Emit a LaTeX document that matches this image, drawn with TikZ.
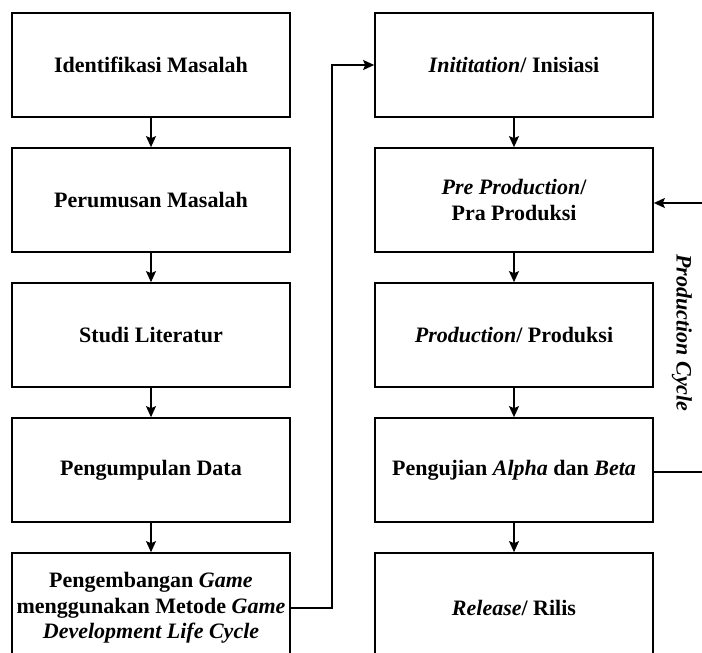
\documentclass[tikz,border=0pt]{standalone}
\usepackage{fontspec}
\setmainfont{Liberation Serif}
\usetikzlibrary{arrows.meta}
\tikzset{
  stepbox/.style={draw, line width=1.7pt, minimum width=278pt, minimum height=104pt,
    inner sep=2pt, align=center, font=\fontsize{22}{25.5}\selectfont\bfseries},
  lastbox/.style={stepbox, minimum height=110pt},
  flow/.style={line width=1.6pt, -{Stealth[length=11pt,width=10pt,inset=2pt]}},
  plainline/.style={line width=1.6pt}
}
\begin{document}
\begin{tikzpicture}[x=1pt,y=-1pt]
\useasboundingbox (0,0) rectangle (702,653);
\clip (0,0) rectangle (702,653);
\fill[white] (0,0) rectangle (702,653);

% left column: research stages
\node[stepbox] (ident) at (151,65) {Identifikasi Masalah};
\node[stepbox] (rumus) at (151,200) {Perumusan Masalah};
\node[stepbox] (studi) at (151,335) {Studi Literatur};
\node[stepbox] (data)  at (151,470) {Pengumpulan Data};
\node[lastbox] (dev)   at (151,608) {Pengembangan \textit{Game}\\menggunakan Metode \textit{Game}\\\textit{Development Life Cycle}};

% right column: game development life cycle
\node[stepbox] (init)  at (514,65) {\textit{Inititation}/ Inisiasi};
\node[stepbox] (pre)   at (514,200) {\textit{Pre Production}/\\Pra Produksi};
\node[stepbox] (prod)  at (514,335) {\textit{Production}/ Produksi};
\node[stepbox] (test)  at (514,470) {Pengujian \textit{Alpha} dan \textit{Beta}};
\node[lastbox] (rel)   at (514,608) {\textit{Release}/ Rilis};

\draw[flow] (ident) -- (rumus);
\draw[flow] (rumus) -- (studi);
\draw[flow] (studi) -- (data);
\draw[flow] (data) -- (dev);

\draw[flow] (init) -- (pre);
\draw[flow] (pre) -- (prod);
\draw[flow] (prod) -- (test);
\draw[flow] (test) -- (rel);

% link from the development stage to the first GDLC phase
\coordinate (bend) at (332,0);
\draw[flow] (dev.east) -- (dev.east -| bend) -- (init.west -| bend) -- (init.west);

% production cycle loop on the right
\coordinate (loopout) at (702,472);
\coordinate (loopin) at (702,203);
\draw[plainline] (test.east |- loopout) -- (loopout);
\draw[flow] (loopin) -- (pre.east |- loopin);
\node[rotate=-90, font=\fontsize{22}{25.5}\selectfont\bfseries\itshape] (cyc) at (682,333) {Production Cycle};
\end{tikzpicture}
\end{document}
